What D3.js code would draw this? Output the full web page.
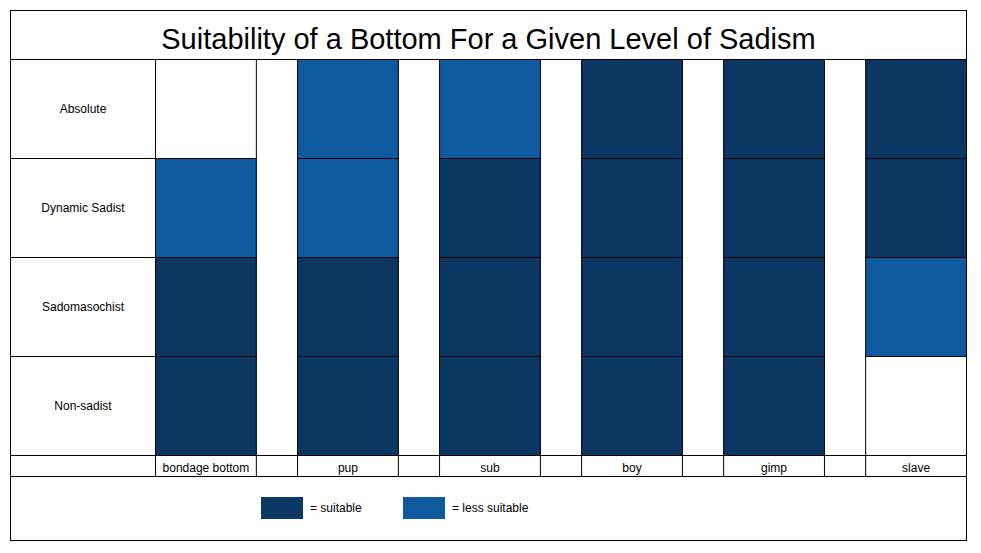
<!DOCTYPE html>
<html><head><meta charset="utf-8">
<script src="https://cdn.jsdelivr.net/npm/d3@7"></script>
<style>body{margin:0;background:#fff}text{font-family:"Liberation Sans",Arial,sans-serif}</style>
</head><body><svg id="c" width="981" height="553"></svg>
<script>
const title = "Suitability of a Bottom For a Given Level of Sadism";
const columns = ["bondage bottom","pup","sub","boy","gimp","slave"];
const rows = ["Absolute","Dynamic Sadist","Sadomasochist","Non-sadist"];
// S = suitable, L = less suitable, "" = none
const values = [
  ["", "L", "L", "S", "S", "S"],
  ["L", "L", "S", "S", "S", "S"],
  ["S", "S", "S", "S", "S", "L"],
  ["S", "S", "S", "S", "S", ""]
];
const legendItems = [["S","= suitable"],["L","= less suitable"]];
const colors = {S:"#0d3763", L:"#0f5a9f", "":"#ffffff"};

const svg = d3.select("#c");
const L=10.5, R=966.5, T=10.5, B=540.5, gridTop=59.5, gridBot=455.5, labBot=476.5, labelColR=155.5;
const x = d3.scaleBand().domain(columns).range([labelColR, R]).paddingInner(0.29).paddingOuter(0);
const y = d3.scaleBand().domain(rows).range([gridTop, gridBot]);

svg.append("rect").attr("x",L).attr("y",T).attr("width",R-L).attr("height",B-T).attr("fill","none").attr("stroke","#000");
svg.append("line").attr("x1",L).attr("x2",R).attr("y1",gridTop).attr("y2",gridTop).attr("stroke","#000");
svg.append("text").attr("x",(L+R)/2).attr("y",49).attr("text-anchor","middle").attr("font-size",29).text(title);

// row labels
rows.forEach(r=>{
  svg.append("rect").attr("x",L).attr("y",y(r)).attr("width",labelColR-L).attr("height",y.bandwidth()).attr("fill","none").attr("stroke","#000");
  svg.append("text").attr("x",(L+labelColR)/2).attr("y",y(r)+y.bandwidth()/2+4).attr("text-anchor","middle").attr("font-size",12).text(r);
});
// cells
rows.forEach((r,i)=>columns.forEach((c,j)=>{
  const v=values[i][j];
  svg.append("rect").attr("x",x(c)).attr("y",y(r)).attr("width",x.bandwidth()).attr("height",y.bandwidth())
    .attr("fill",colors[v]).attr("stroke","#000");
}));
// label row
svg.append("rect").attr("x",L).attr("y",gridBot).attr("width",R-L).attr("height",labBot-gridBot).attr("fill","none").attr("stroke","#000");
svg.append("line").attr("x1",labelColR).attr("x2",labelColR).attr("y1",gridBot).attr("y2",labBot).attr("stroke","#000");
columns.forEach(c=>{
  [x(c), x(c)+x.bandwidth()].forEach(xx=>svg.append("line").attr("x1",xx).attr("x2",xx).attr("y1",gridBot).attr("y2",labBot).attr("stroke","#000"));
  svg.append("text").attr("x",x(c)+x.bandwidth()/2).attr("y",gridBot+16).attr("text-anchor","middle").attr("font-size",12).text(c);
});
// legend
const lx=[261,403];
legendItems.forEach((d,i)=>{
  svg.append("rect").attr("x",lx[i]).attr("y",497).attr("width",42).attr("height",22).attr("fill",colors[d[0]]);
  svg.append("text").attr("x",lx[i]+49).attr("y",512).attr("font-size",12).text(d[1]);
});
</script></body></html>
